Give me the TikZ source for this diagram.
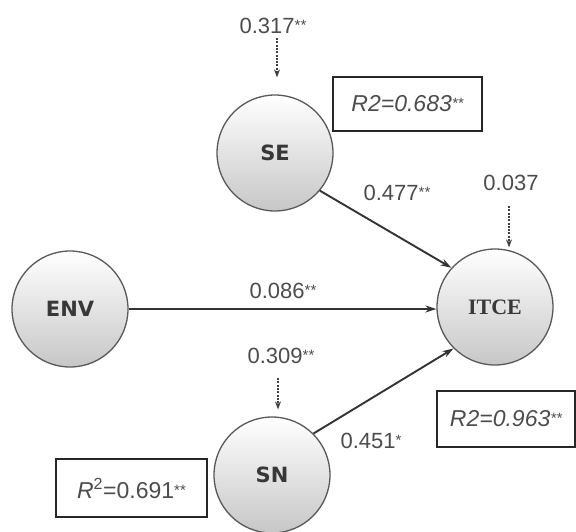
\documentclass[tikz,border=0pt]{standalone}
\usepackage{fontspec}
\setmainfont{Liberation Sans}
\newfontfamily\nodesans{DejaVu Sans}
\newfontfamily\nodeserif{Liberation Serif}
\usetikzlibrary{arrows.meta}

% significance stars, small and raised
\newcommand\sig[1]{{\fontsize{15}{15}\selectfont\raisebox{3pt}{#1}}}

\begin{document}
\begin{tikzpicture}[x=1pt,y=-1pt,
  latent/.style={circle, draw=black!65, line width=1.3pt, minimum size=116pt,
    inner sep=0pt, top color=white, bottom color=black!22, text=black!78,
    font=\fontsize{21}{21}\selectfont\nodesans\bfseries},
  latentserif/.style={latent, font=\fontsize{22}{22}\selectfont\nodeserif\bfseries},
  coef/.style={inner sep=0pt, text=black!70, font=\fontsize{22}{22}\selectfont},
  rbox/.style={draw=black!85, line width=1.8pt, inner sep=0pt, text=black!70,
    font=\fontsize{23}{23}\selectfont},
  effect/.style={-{Stealth[length=11pt,width=7pt]}, line width=1.9pt, draw=black!80},
  resid/.style={-{Stealth[length=8pt,width=6pt]}, dash pattern=on 2pt off 1.3pt,
    line width=1.1pt, draw=black!75}]
\useasboundingbox (0,0) rectangle (576,531);

% latent variables
\node[latent]      (SE)   at (275,153) {SE};
\node[latent]      (ENV)  at (70,309)  {ENV};
\node[latentserif] (ITCE) at (495,307) {ITCE};
\node[latent]      (SN)   at (272,475) {SN};

% explained variance boxes
\node[rbox, minimum width=149pt, minimum height=54pt] (bSE)   at (407.5,104) {\itshape R2=0.683\sig{**}};
\node[rbox, minimum width=138pt, minimum height=56pt] (bITCE) at (506,419)   {\itshape R2=0.963\sig{**}};
\node[rbox, minimum width=151pt, minimum height=58pt] (bSN)   at (131.5,488) {{\itshape R}\textsuperscript{2}=0.691\sig{**}};

% path coefficients
\node[coef] (cSE)  at (397,193) {0.477\sig{**}};
\node[coef] (cENV) at (283,291) {0.086\sig{**}};
\node[coef] (cSN)  at (371,441) {0.451\sig{*}};

% residual terms
\node[coef] (eSE)   at (273,26)  {0.317\sig{**}};
\node[coef] (eITCE) at (511,183) {0.037};
\node[coef] (eSN)   at (281,356) {0.309\sig{**}};

\coordinate (rSE)   at (277,38);
\coordinate (rITCE) at (509,206);
\coordinate (rSN)   at (278,378);

% structural paths
\draw[effect] (SE.-40)  -- (ITCE.138);
\draw[effect] (ENV.east) -- (ENV.east -| ITCE.west);
\draw[effect] (SN.45)   -- (ITCE.225);

% residual arrows
\draw[resid, shorten >=17pt] (rSE)   -- (rSE |- SE.north);
\draw[resid, shorten >=1pt]  (rITCE) -- (rITCE |- ITCE.north);
\draw[resid, shorten >=7pt]  (rSN)   -- (rSN |- SN.north);
\end{tikzpicture}
\end{document}
